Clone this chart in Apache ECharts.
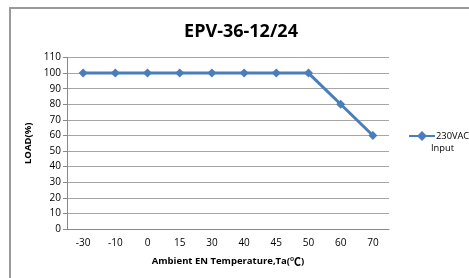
<!DOCTYPE html>
<html>
<head>
<meta charset="utf-8">
<script src="https://cdn.jsdelivr.net/npm/echarts@6/dist/echarts.min.js"></script>
<style>
html,body{margin:0;padding:0;background:#fff;}
#frame{position:absolute;left:9px;top:7px;width:520px;height:320px;border:2px solid #9a9a9a;}
#chart{position:absolute;left:0;top:0;width:469px;height:278px;}
</style>
</head>
<body>
<div id="frame"></div>
<div id="chart"></div>
<script>
// temperature categories and load values
var temps=['-30','-10','0','15','30','40','45','50','60','70'];
var load230=[100,100,100,100,100,100,100,100,80,60];
var seriesName='230VAC Input';

var myChart=echarts.init(document.getElementById('chart'));
var font='"Open Sans", "Liberation Sans", sans-serif';
var cjk='"Noto Sans CJK SC", sans-serif';

var option={
    animation:false,
    title:{
        text:'EPV-36-12/24',
        left:236,
        textAlign:'center',
        top:18,
        textStyle:{fontFamily:font,fontSize:18,fontWeight:'bold',color:'#000'}
    },
    legend:{
        orient:'vertical',
        left:404,
        top:126,
        itemWidth:26,
        itemHeight:10,
        icon:'path://M0,4 L9,4 L13,0 L17,4 L26,4 L26,6 L17,6 L13,10 L9,6 L0,6 Z',
        formatter:function(name){return name.split(' ')[0];},
        textStyle:{fontFamily:font,fontSize:9.3,color:'#000',padding:[0,0,0,-4]},
        data:[{name:seriesName}]
    },
    graphic:[
        {
            type:'text',
            left:431,
            top:144,
            style:{text:'Input',fontFamily:font,fontSize:9.3,fill:'#000'}
        }
    ],
    grid:{left:67,right:80,top:57.5,bottom:49},
    xAxis:{
        type:'category',
        data:temps,
        boundaryGap:true,
        name:'{t|Ambient EN Temperature,Ta(}{c|℃}{t|)}',
        nameLocation:'middle',
        nameGap:27,
        nameTextStyle:{
            fontFamily:font,fontSize:9.5,fontWeight:'bold',color:'#000',
            rich:{
                t:{fontFamily:font,fontSize:9.5,fontWeight:'bold',color:'#000'},
                c:{fontFamily:cjk,fontSize:11,fontWeight:'bold',color:'#000'}
            }
        },
        axisLine:{lineStyle:{color:'#888',width:1}},
        axisTick:{show:false},
        axisLabel:{fontFamily:font,fontSize:10,color:'#000',margin:9}
    },
    yAxis:{
        type:'value',
        min:0,
        max:110,
        interval:10,
        name:'LOAD(%)',
        nameLocation:'middle',
        nameGap:31,
        nameRotate:90,
        nameTextStyle:{fontFamily:font,fontSize:9.5,fontWeight:'bold',color:'#000'},
        axisLine:{show:true,lineStyle:{color:'#888',width:1}},
        axisTick:{show:true,inside:false,length:4,lineStyle:{color:'#888'}},
        axisLabel:{fontFamily:font,fontSize:10,color:'#000',margin:6},
        splitLine:{show:true,lineStyle:{color:'#a6a6a6',width:1}}
    },
    series:[
        {
            name:seriesName,
            type:'line',
            data:load230,
            symbol:'diamond',
            symbolSize:9,
            lineStyle:{color:'#4a7ebb',width:3},
            itemStyle:{color:'#4a7ebb'}
        }
    ]
};
myChart.setOption(option);
</script>
</body>
</html>
